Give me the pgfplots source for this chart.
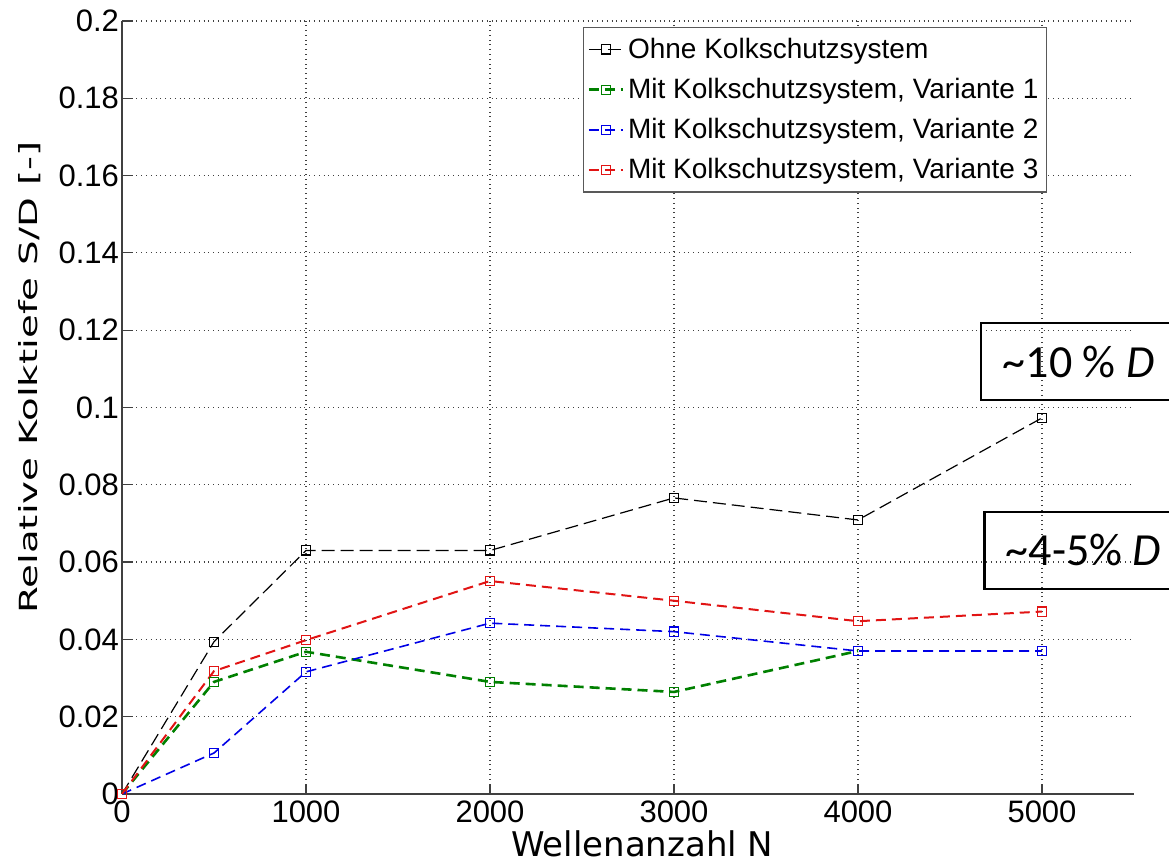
\documentclass[border=0pt]{standalone}
\usepackage{pgfplots}
\pgfplotsset{compat=1.18}
\usepackage{fontspec}
\setmainfont{Liberation Sans}
\newfontfamily\dejavu{DejaVu Sans}
\newfontfamily\carlito{Carlito}
\definecolor{mgreen}{RGB}{0,128,0}
\definecolor{mblue}{RGB}{0,0,230}
\definecolor{mred}{RGB}{225,20,20}
\begin{document}
\begin{tikzpicture}
\useasboundingbox (-61pt,-35.5pt) rectangle (523.5pt,397pt);
\begin{axis}[
  at={(0,0)}, anchor=south west,
  scale only axis, width=506pt, height=386.5pt,
  xmin=0, xmax=5500, ymin=0, ymax=0.2,
  axis lines=left,
  axis line style={-, black!75, line width=0.6pt},
  xtick={0,1000,2000,3000,4000,5000},
  xticklabels={0,1000,2000,3000,4000,5000},
  ytick={0,0.02,0.04,0.06,0.08,0.1,0.12,0.14,0.16,0.18,0.2},
  yticklabels={0,0.02,0.04,0.06,0.08,0.1,0.12,0.14,0.16,0.18,0.2},
  scaled x ticks=false, scaled y ticks=false,
  tick align=inside, major tick length=5pt,
  tick style={black!75, line width=0.6pt},
  grid=major, grid style={dotted, black!75, line width=0.6pt},
  tick label style={font=\fontsize{15.5}{18}\selectfont},
  yticklabel style={xshift=2pt},
  /pgf/number format/assume math mode=true,
  xlabel={Wellenanzahl N},
  xlabel style={font=\dejavu\fontsize{17}{20}\selectfont, at={(axis description cs:0.514,-0.0815)}, anchor=base},
  ylabel={\scalebox{1.55}[1]{Relative Kolktiefe S/D [-]}},
  ylabel style={font=\dejavu\fontsize{12.5}{15}\selectfont, at={(axis description cs:-0.091,0.539)}, anchor=center},
  clip=false,
  legend style={at={(0.914,0.992)}, anchor=north east,
    font=\fontsize{14}{16.5}\selectfont, draw=black!65, line width=0.6pt,
    inner xsep=2pt, inner ysep=3pt, row sep=4.5pt, cells={anchor=west},
    nodes={inner xsep=2pt}},
  legend image code/.code={\draw[mark repeat=2,mark phase=2,#1] plot coordinates {(0pt,0pt) (8.5pt,0pt) (17pt,0pt)};},
  every axis plot/.append style={mark=square, mark size=2.3pt, mark options={solid, fill=white, line width=0.6pt}},
]
\addplot[black, line width=0.6pt, dash pattern=on 6.5pt off 3pt] coordinates {
  (0,0) (500,0.0394) (1000,0.063) (2000,0.063) (3000,0.0766) (4000,0.0709) (5000,0.0973)};
\addlegendentry{Ohne Kolkschutzsystem}
\addplot[mgreen, line width=1.3pt, dash pattern=on 5pt off 3pt] coordinates {
  (0,0) (500,0.029) (1000,0.0368) (2000,0.029) (3000,0.0264) (4000,0.037)};
\addlegendentry{Mit Kolkschutzsystem, Variante 1}
\addplot[mblue, line width=0.8pt, dash pattern=on 5pt off 3pt] coordinates {
  (0,0) (500,0.0106) (1000,0.0316) (2000,0.0442) (3000,0.042) (4000,0.037) (5000,0.037)};
\addlegendentry{Mit Kolkschutzsystem, Variante 2}
\addplot[mred, line width=1pt, dash pattern=on 5pt off 3pt] coordinates {
  (0,0) (500,0.0318) (1000,0.0398) (2000,0.0551) (3000,0.050) (4000,0.0447) (5000,0.0472)};
\addlegendentry{Mit Kolkschutzsystem, Variante 3}
\draw[line width=1.2pt] (axis cs:5800,0.1218) -- (axis cs:4670,0.1218) -- (axis cs:4670,0.1019) -- (axis cs:5800,0.1019);
\node[anchor=west, inner sep=0pt, font=\carlito\fontsize{23}{26}\selectfont] at (axis cs:4785,0.1118) {\textasciitilde 10 \% \textit{D}};
\draw[line width=1.2pt] (axis cs:5800,0.0729) -- (axis cs:4687,0.0729) -- (axis cs:4687,0.0530) -- (axis cs:5800,0.0530);
\node[anchor=west, inner sep=0pt, font=\carlito\fontsize{23}{26}\selectfont] at (axis cs:4801,0.063) {\textasciitilde 4-5\% \textit{D}};
\end{axis}
\end{tikzpicture}
\end{document}
